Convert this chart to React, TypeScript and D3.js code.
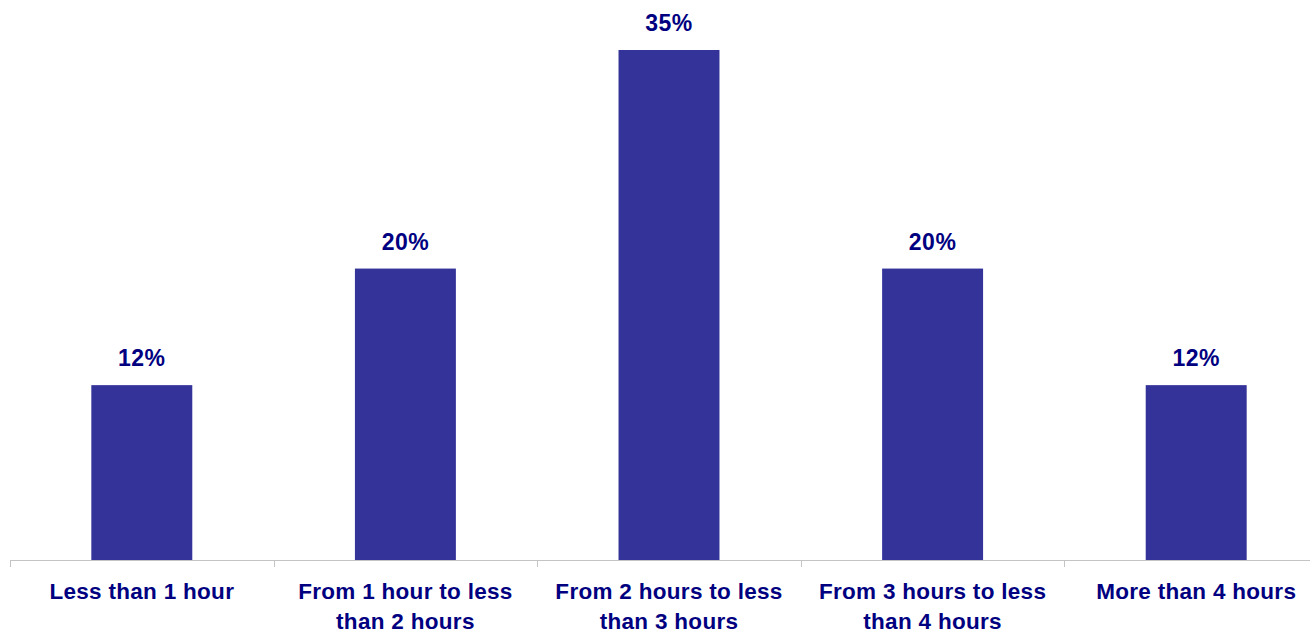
import React from "react";
import * as d3 from "d3";

// Share of respondents by time spent
const categories: string[][] = [
  ["Less than 1 hour"],
  ["From 1 hour to less", "than 2 hours"],
  ["From 2 hours to less", "than 3 hours"],
  ["From 3 hours to less", "than 4 hours"],
  ["More than 4 hours"],
];
const shares: number[] = [12, 20, 35, 20, 12];

const WIDTH = 1310;
const HEIGHT = 632;
const BASELINE = 560;
const TOP = 50;
const BAR_COLOR = "#333399";
const TEXT_COLOR = "#000080";
const AXIS_COLOR = "#c4c4c4";
const FONT = "'Liberation Sans', Arial, Helvetica, sans-serif";

export default function App() {
  const keys = categories.map((_, i) => String(i));
  const x = d3
    .scaleBand<string>()
    .domain(keys)
    .range([10, 10 + 5 * 263.6])
    .paddingInner(0.617)
    .paddingOuter(0.3085);
  const y = d3.scaleLinear().domain([0, d3.max(shares) as number]).range([BASELINE, TOP]);

  const step = x.step();
  const start = x.range()[0];
  const tickXs = d3.range(keys.length + 1).map((i) => start + i * step);
  const cx = (i: number) => (x(keys[i]) as number) + x.bandwidth() / 2;

  return (
    <svg
      width={WIDTH}
      height={HEIGHT}
      style={{ position: "absolute", left: 0, top: 0, background: "#fff" }}
    >
      {/* bars */}
      {shares.map((v, i) => (
        <rect
          key={"b" + i}
          x={x(keys[i])}
          y={y(v)}
          width={x.bandwidth()}
          height={BASELINE - y(v)}
          fill={BAR_COLOR}
        />
      ))}

      {/* category axis */}
      <line x1={start} x2={WIDTH} y1={BASELINE + 0.5} y2={BASELINE + 0.5} stroke={AXIS_COLOR} strokeWidth={1} />
      {tickXs.map((tx, i) => (
        <line
          key={"t" + i}
          x1={Math.round(tx) + 0.5}
          x2={Math.round(tx) + 0.5}
          y1={BASELINE}
          y2={BASELINE + 7}
          stroke={AXIS_COLOR}
          strokeWidth={1}
        />
      ))}

      {/* value labels */}
      {shares.map((v, i) => (
        <text
          key={"v" + i}
          x={cx(i)}
          y={y(v) - 19}
          textAnchor="middle"
          fontFamily={FONT}
          fontWeight="bold"
          fontSize={23}
          letterSpacing={0.5}
          fill={TEXT_COLOR}
        >
          {d3.format(".0f")(v) + "%"}
        </text>
      ))}

      {/* category labels */}
      {categories.map((lines, i) => (
        <text
          key={"c" + i}
          x={cx(i)}
          y={599}
          textAnchor="middle"
          fontFamily={FONT}
          fontWeight="bold"
          fontSize={22.5}
          letterSpacing={0.3}
          fill={TEXT_COLOR}
        >
          {lines.map((ln, j) => (
            <tspan key={j} x={cx(i)} dy={j === 0 ? 0 : 29.5}>
              {ln}
            </tspan>
          ))}
        </text>
      ))}
    </svg>
  );
}
